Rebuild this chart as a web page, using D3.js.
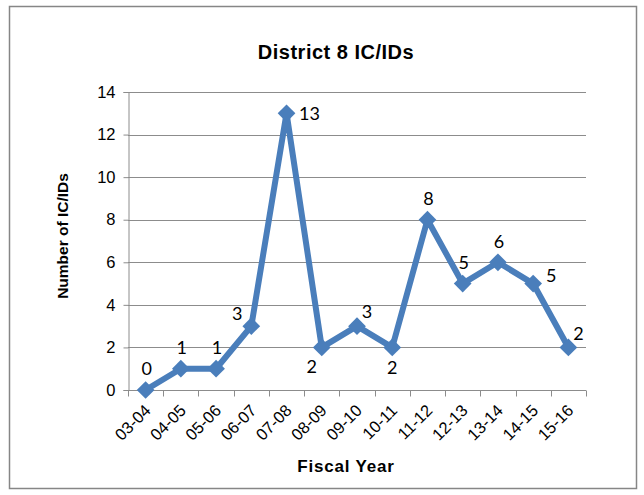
<!DOCTYPE html>
<html>
<head>
<meta charset="utf-8">
<script src="https://cdn.jsdelivr.net/npm/d3@7"></script>
<style>
  html, body { margin: 0; padding: 0; background: #fff; }
  svg { display: block; }
</style>
</head>
<body>
<svg id="chart" width="644" height="495"></svg>
<script>
// Fiscal years and yearly counts of IC/IDs
const years = ["03-04","04-05","05-06","06-07","07-08","08-09","09-10","10-11","11-12","12-13","13-14","14-15","15-16"];
const counts = [0, 1, 1, 3, 13, 2, 3, 2, 8, 5, 6, 5, 2];
const labelSides = ["above","above","above","left","right","belowLeft","aboveRight","below","above","above","above","upRight","aboveRight"];
const yTicks = [0, 2, 4, 6, 8, 10, 12, 14];

const svg = d3.select("#chart");
const blue = "#4a7ebb";
const arial = "'Liberation Sans', Arial, sans-serif";

// outer chart frame
svg.append("rect")
  .attr("x", 9.5).attr("y", 6.5).attr("width", 627).attr("height", 482)
  .attr("fill", "#fff").attr("stroke", "#868686").attr("stroke-width", 1.5);

const plot = { left: 128, right: 586, top: 92, bottom: 390 };

const x = d3.scaleBand().domain(years).range([plot.left, plot.right]);
const y = d3.scaleLinear().domain([0, 14]).range([plot.bottom, plot.top]);

// horizontal gridlines
svg.append("g").selectAll("line").data(yTicks.filter(d => d > 0)).join("line")
  .attr("x1", plot.left).attr("x2", plot.right)
  .attr("y1", d => Math.round(y(d)) + 0.5).attr("y2", d => Math.round(y(d)) + 0.5)
  .attr("stroke", "#8c8c8c").attr("stroke-width", 1);

// y axis
const yAxis = svg.append("g")
  .attr("transform", `translate(${plot.left + 0.5},0)`)
  .call(d3.axisLeft(y).tickValues(yTicks).tickSize(5).tickPadding(8).tickFormat(d3.format("d")));
yAxis.select(".domain").attr("stroke", "#8c8c8c");
yAxis.selectAll(".tick line").attr("stroke", "#8c8c8c");
yAxis.selectAll(".tick text")
  .attr("font-family", arial)
  .attr("font-size", 16.5).attr("fill", "#000");

// x axis with ticks between categories
const xg = svg.append("g").attr("transform", `translate(0,${Math.round(plot.bottom) + 0.5})`);
xg.append("line").attr("x1", plot.left).attr("x2", plot.right).attr("stroke", "#8c8c8c");
const bounds = years.map(d => x(d)).concat([plot.right]);
xg.selectAll("line.tk").data(bounds).join("line").attr("class", "tk")
  .attr("x1", d => Math.round(d) + 0.5).attr("x2", d => Math.round(d) + 0.5)
  .attr("y1", 0).attr("y2", 6).attr("stroke", "#8c8c8c");
xg.selectAll("text").data(years).join("text")
  .attr("transform", d => `translate(${x(d) + x.bandwidth() / 2 + 2},${17}) rotate(-45)`)
  .attr("text-anchor", "end")
  .attr("font-family", arial)
  .attr("font-size", 16.5).attr("fill", "#000")
  .attr("dy", "0.35em")
  .text(d => d);

// series line
const cx = d => x(d) + x.bandwidth() / 2;
const line = d3.line().x((d, i) => cx(years[i])).y(d => y(d));
svg.append("path").datum(counts)
  .attr("d", line).attr("fill", "none")
  .attr("stroke", blue).attr("stroke-width", 6).attr("stroke-linejoin", "round");

// diamond markers
const sym = d3.symbol().type(d3.symbolDiamond2).size(200);
svg.append("g").selectAll("path").data(counts).join("path")
  .attr("transform", (d, i) => `translate(${cx(years[i])},${y(d)})`)
  .attr("d", sym).attr("fill", blue);

// data labels
const offsets = {
  above: [1, -21], below: [0, 20], left: [-14, -12], right: [23, 0],
  belowLeft: [-10, 19], aboveRight: [10, -14], upRight: [18, -8]
};
svg.append("g").selectAll("text").data(counts).join("text")
  .attr("x", (d, i) => cx(years[i]) + offsets[labelSides[i]][0])
  .attr("y", (d, i) => y(d) + offsets[labelSides[i]][1])
  .attr("text-anchor", "middle").attr("dy", "0.35em")
  .attr("font-family", "Lato, 'Open Sans', sans-serif")
  .attr("font-size", 18).attr("fill", "#000")
  .text(d => d);

// titles
svg.append("text").attr("x", 336).attr("y", 59).attr("text-anchor", "middle")
  .attr("font-family", arial)
  .attr("font-weight", "bold").attr("font-size", 20).attr("letter-spacing", 0.5)
  .text("District 8 IC/IDs");
svg.append("text").attr("x", 346).attr("y", 472).attr("text-anchor", "middle")
  .attr("font-family", arial)
  .attr("font-weight", "bold").attr("font-size", 17).attr("letter-spacing", 0.8)
  .text("Fiscal Year");
svg.append("text").attr("transform", "translate(68,236) rotate(-90)").attr("text-anchor", "middle")
  .attr("font-family", arial)
  .attr("font-weight", "bold").attr("font-size", 15.5)
  .text("Number of IC/IDs");
</script>
</body>
</html>
